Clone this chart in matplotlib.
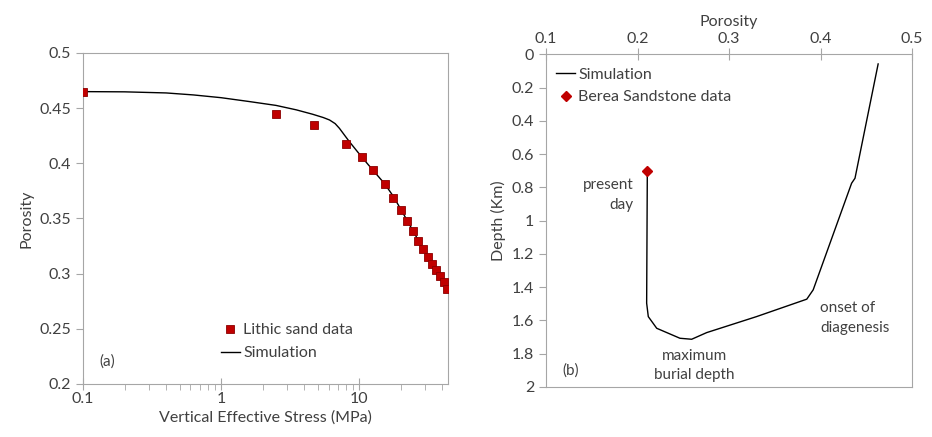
import matplotlib
matplotlib.use("Agg")
import matplotlib.pyplot as plt
from matplotlib.lines import Line2D
from matplotlib.ticker import FixedLocator, LogLocator, NullFormatter

plt.rcParams['font.family'] = ['Lato', 'DejaVu Sans']
plt.rcParams['font.size'] = 10.5

# (a) porosity vs vertical effective stress
stress_data = [0.1, 2.48, 4.72, 8.0, 10.5, 12.6, 15.3, 17.7, 20.0, 22.2, 24.5,
               26.8, 29.2, 31.6, 33.8, 36.0, 38.5, 41.2, 43.6]
porosity_data = [0.465, 0.445, 0.435, 0.4175, 0.406, 0.3937, 0.381, 0.369, 0.3574,
                 0.348, 0.3386, 0.330, 0.322, 0.3148, 0.309, 0.303, 0.298, 0.292, 0.2863]

stress_sim = [0.1, 0.2, 0.4, 0.63, 1.0, 1.6, 2.5, 3.5, 4.6, 5.5, 6.1, 6.7, 7.2,
              8.0, 8.5, 10.4, 12.6, 15.3, 17.7, 20.0, 24.5, 29.0, 33.8, 38.5, 44.0]
porosity_sim = [0.465, 0.4648, 0.4638, 0.462, 0.4595, 0.456, 0.4525, 0.4485, 0.4445,
                0.4415, 0.4393, 0.436, 0.4317, 0.424, 0.4196, 0.406, 0.3937, 0.3815,
                0.370, 0.3585, 0.339, 0.3225, 0.309, 0.298, 0.2895]

# (b) porosity vs depth history
sim_porosity_b = [0.463, 0.4377, 0.434, 0.392, 0.385, 0.330, 0.2756, 0.2592,
                  0.2464, 0.221, 0.2118, 0.210, 0.2107]
sim_depth_b = [0.058, 0.745, 0.775, 1.416, 1.472, 1.577, 1.673, 1.713,
               1.707, 1.647, 1.577, 1.496, 0.736]
berea_porosity = [0.21]
berea_depth = [0.70]

spine_col = '#a6a6a6'
text_col = '#404040'
red = '#c00000'

fig = plt.figure(figsize=(9.32, 4.37), dpi=100)

# ---- panel (a) ----
ax1 = fig.add_axes([83/932, 1-384/437, (448-83)/932, (384-53)/437])
ax1.plot(stress_sim, porosity_sim, color='black', lw=1.0, zorder=2)
ax1.plot(stress_data, porosity_data, ls='none', marker='s', ms=5.3,
         mfc=red, mec='#8b0000', mew=0.6, zorder=3)
ax1.set_xscale('log')
ax1.set_xlim(0.1, 44)
ax1.set_ylim(0.2, 0.5)
ax1.set_yticks([0.2, 0.25, 0.3, 0.35, 0.4, 0.45, 0.5])
ax1.set_yticklabels(['0.2', '0.25', '0.3', '0.35', '0.4', '0.45', '0.5'])
ax1.xaxis.set_major_locator(FixedLocator([0.1, 1, 10]))
ax1.set_xticklabels(['0.1', '1', '10'])
ax1.xaxis.set_minor_locator(LogLocator(base=10, subs=range(2, 10)))
ax1.xaxis.set_minor_formatter(NullFormatter())
ax1.tick_params(axis='x', which='major', direction='inout', length=8, color=spine_col,
                labelcolor=text_col, labelsize=11.5, pad=2)
ax1.tick_params(axis='x', which='minor', direction='out', length=4, color=spine_col)
ax1.tick_params(axis='y', direction='out', length=5, color=spine_col,
                labelcolor=text_col, labelsize=11.5)
for s in ax1.spines.values():
    s.set_color(spine_col)
ax1.set_xlabel('Vertical Effective Stress (MPa)', color=text_col, fontsize=11.5, labelpad=3)
ax1.set_ylabel('Porosity', color=text_col, fontsize=11.5)
h1 = [Line2D([], [], ls='none', marker='s', ms=5.3, mfc=red, mec='#8b0000', mew=0.6),
      Line2D([], [], color='black', lw=1.0)]
ax1.legend(h1, ['Lithic sand data', 'Simulation'], loc='lower left',
           bbox_to_anchor=(0.36, 0.052), frameon=False, fontsize=11.5,
           handlelength=1.2, handletextpad=0.2, labelspacing=0.55,
           labelcolor=text_col, borderaxespad=0)
ax1.text(0.045, 0.055, '(a)', transform=ax1.transAxes, color=text_col, fontsize=11)

# ---- panel (b) ----
ax2 = fig.add_axes([546/932, 1-387/437, (912-546)/932, (387-54.3)/437])
ax2.plot(sim_porosity_b, sim_depth_b, color='black', lw=1.0, zorder=2)
ax2.plot(berea_porosity, berea_depth, ls='none', marker='D', ms=5.0,
         mfc=red, mec=red, zorder=3)
ax2.set_xlim(0.1, 0.5)
ax2.set_ylim(2.0, 0.0)
ax2.set_xticks([0.1, 0.2, 0.3, 0.4, 0.5])
ax2.set_xticklabels(['0.1', '0.2', '0.3', '0.4', '0.5'])
ax2.set_yticks([0, 0.2, 0.4, 0.6, 0.8, 1.0, 1.2, 1.4, 1.6, 1.8, 2.0])
ax2.set_yticklabels(['0', '0.2', '0.4', '0.6', '0.8', '1', '1.2', '1.4', '1.6', '1.8', '2'])
ax2.xaxis.tick_top()
ax2.xaxis.set_label_position('top')
ax2.tick_params(axis='x', direction='inout', length=8, color=spine_col,
                labelcolor=text_col, labelsize=11.5, pad=2)
ax2.tick_params(axis='y', direction='out', length=5, color=spine_col,
                labelcolor=text_col, labelsize=11.5)
for s in ax2.spines.values():
    s.set_color(spine_col)
ax2.set_xlabel('Porosity', color=text_col, fontsize=11.5, labelpad=4)
ax2.set_ylabel('Depth (Km)', color=text_col, fontsize=11.5)
h2 = [Line2D([], [], color='black', lw=1.0),
      Line2D([], [], ls='none', marker='D', ms=5.0, mfc=red, mec=red)]
ax2.legend(h2, ['Simulation', 'Berea Sandstone data'], loc='upper left',
           bbox_to_anchor=(0.01, 0.98), frameon=False, fontsize=11.5,
           handlelength=1.2, handletextpad=0.2, labelspacing=0.55,
           labelcolor=text_col, borderaxespad=0)
ax2.text(0.045, 0.037, '(b)', transform=ax2.transAxes, color=text_col, fontsize=11)
ax2.text(0.196, 0.845, 'present\nday', ha='right', va='center', color=text_col,
         fontsize=11, linespacing=1.6)
ax2.text(0.262, 1.87, 'maximum\nburial depth', ha='center', va='center', color=text_col,
         fontsize=11, linespacing=1.4)
ax2.text(0.3994, 1.586, 'onset of\ndiagenesis', ha='left', va='center', color=text_col,
         fontsize=11, linespacing=1.5)

fig.savefig('out.png', dpi=100, facecolor='white')
